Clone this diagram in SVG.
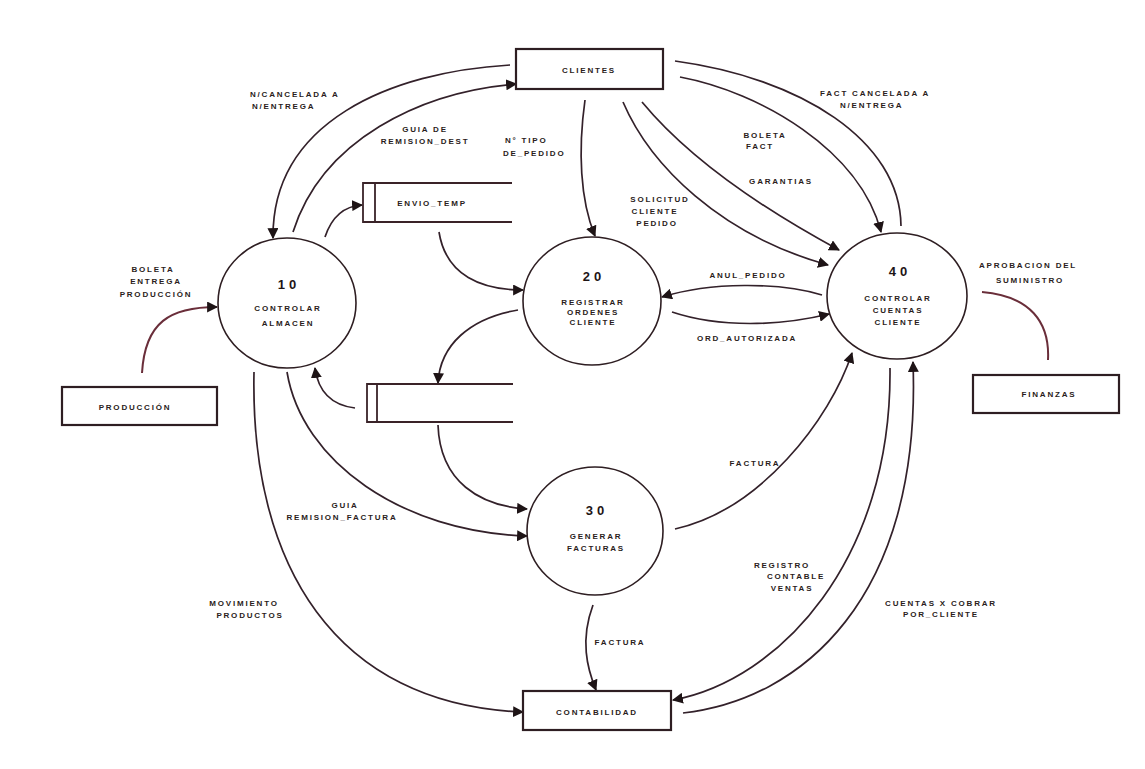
<svg xmlns="http://www.w3.org/2000/svg" width="1145" height="769" viewBox="0 0 1145 769">
  <defs>
    <style>
      .bg { fill: #ffffff; }
      .proc { fill: none; stroke: #2e1e22; stroke-width: 1.6; }
      .ext { fill: #ffffff; stroke: #2e1e22; stroke-width: 2.2; }
      .store { fill: none; stroke: #3a2328; stroke-width: 1.8; }
      .flow { fill: none; stroke: #33212a; stroke-width: 1.7; }
      .flow-red { fill: none; stroke: #6a2e3a; stroke-width: 2; }
      .lbl { font-family: "Liberation Sans", Arial, sans-serif; font-size: 8px; font-weight: bold; letter-spacing: 1.8px; fill: #2a1c20; }
      .mid { text-anchor: middle; }
      .num { font-family: "Liberation Sans", Arial, sans-serif; font-size: 13px; font-weight: bold; letter-spacing: 4px; fill: #1e1416; text-anchor: middle; }
    </style>
    <marker id="arrow" viewBox="0 0 10 10" refX="9" refY="5" markerWidth="11" markerHeight="11" markerUnits="userSpaceOnUse" orient="auto">
      <path d="M0,0 L10,5 L0,10 z" fill="#1e1416"/>
    </marker>
  </defs>

  <rect class="bg" x="0" y="0" width="1145" height="769"/>

  <!-- data flows -->
  <g id="connectors">
    <!-- CLIENTES -> 10 -->
    <path class="flow" d="M510,65 C390,72 272,122 273,238" marker-end="url(#arrow)"/>
    <!-- 10 -> CLIENTES -->
    <path class="flow" d="M293,232 C322,140 420,92 516,84" marker-end="url(#arrow)"/>
    <!-- 10 -> ENVIO_TEMP -->
    <path class="flow" d="M325,237 C332,216 345,206 362,205" marker-end="url(#arrow)"/>
    <!-- ENVIO_TEMP -> 20 -->
    <path class="flow" d="M439,232 C446,276 482,290 523,290" marker-end="url(#arrow)"/>
    <!-- 20 -> store -->
    <path class="flow" d="M518,310 C470,318 440,345 438,383" marker-end="url(#arrow)"/>
    <!-- store -> 10 -->
    <path class="flow" d="M355,408 C330,405 318,390 315,368" marker-end="url(#arrow)"/>
    <!-- PRODUCCION -> 10 -->
    <path class="flow-red" d="M142,373 C145,322 170,307 217,307" marker-end="url(#arrow)"/>
    <!-- CLIENTES -> 20 -->
    <path class="flow" d="M585,100 C578,150 580,200 595,236" marker-end="url(#arrow)"/>
    <!-- CLIENTES -> 40 (four flows) -->
    <path class="flow" d="M623,102 C650,165 720,235 828,265" marker-end="url(#arrow)"/>
    <path class="flow" d="M642,102 C690,160 765,210 839,250" marker-end="url(#arrow)"/>
    <path class="flow" d="M680,77 C760,92 860,150 881,232" marker-end="url(#arrow)"/>
    <path class="flow" d="M675,61 C800,78 900,140 901,226"/>
    <!-- 40 -> 20 -->
    <path class="flow" d="M822,295 C780,282 710,282 662,297" marker-end="url(#arrow)"/>
    <!-- 20 -> 40 -->
    <path class="flow" d="M672,312 C720,328 780,326 829,314" marker-end="url(#arrow)"/>
    <!-- 30 -> 40 -->
    <path class="flow" d="M675,529 C760,510 830,420 852,353" marker-end="url(#arrow)"/>
    <!-- 40 -> CONTABILIDAD -->
    <path class="flow" d="M890,368 C892,560 780,680 673,700" marker-end="url(#arrow)"/>
    <!-- CONTABILIDAD -> 40 -->
    <path class="flow" d="M683,713 C800,700 922,600 913,362" marker-end="url(#arrow)"/>
    <!-- 10 -> 30 -->
    <path class="flow" d="M287,372 C302,462 402,532 527,536" marker-end="url(#arrow)"/>
    <!-- 10 -> CONTABILIDAD -->
    <path class="flow" d="M254,372 C250,565 335,705 523,712" marker-end="url(#arrow)"/>
    <!-- store -> 30 -->
    <path class="flow" d="M438,425 C440,482 480,506 527,509" marker-end="url(#arrow)"/>
    <!-- 30 -> CONTABILIDAD -->
    <path class="flow" d="M593,605 C580,640 587,668 596,690" marker-end="url(#arrow)"/>
    <!-- 40 -> FINANZAS -->
    <path class="flow-red" d="M982,292 C1030,296 1050,322 1048,360"/>

    <!-- flow labels -->
    <text class="lbl" x="250" y="97">N/CANCELADA A</text>
    <text class="lbl" x="252" y="109">N/ENTREGA</text>
    <text class="lbl mid" x="425" y="132">GUIA DE</text>
    <text class="lbl mid" x="425" y="144">REMISION_DEST</text>
    <text class="lbl" x="505" y="143">N° TIPO</text>
    <text class="lbl" x="503" y="156">DE_PEDIDO</text>
    <text class="lbl" x="820" y="96">FACT CANCELADA A</text>
    <text class="lbl" x="840" y="108">N/ENTREGA</text>
    <text class="lbl mid" x="765" y="138">BOLETA</text>
    <text class="lbl mid" x="760" y="149">FACT</text>
    <text class="lbl mid" x="781" y="184">GARANTIAS</text>
    <text class="lbl mid" x="660" y="202">SOLICITUD</text>
    <text class="lbl mid" x="655" y="214">CLIENTE</text>
    <text class="lbl mid" x="657" y="226">PEDIDO</text>
    <text class="lbl mid" x="748" y="278">ANUL_PEDIDO</text>
    <text class="lbl mid" x="747" y="341">ORD_AUTORIZADA</text>
    <text class="lbl mid" x="1028" y="268">APROBACION DEL</text>
    <text class="lbl mid" x="1030" y="283">SUMINISTRO</text>
    <text class="lbl mid" x="153" y="272">BOLETA</text>
    <text class="lbl mid" x="156" y="284">ENTREGA</text>
    <text class="lbl mid" x="156" y="297">PRODUCCIÓN</text>
    <text class="lbl mid" x="345" y="508">GUIA</text>
    <text class="lbl mid" x="342" y="520">REMISION_FACTURA</text>
    <text class="lbl mid" x="755" y="466">FACTURA</text>
    <text class="lbl mid" x="782" y="568">REGISTRO</text>
    <text class="lbl mid" x="796" y="579">CONTABLE</text>
    <text class="lbl mid" x="792" y="591">VENTAS</text>
    <text class="lbl mid" x="941" y="606">CUENTAS X COBRAR</text>
    <text class="lbl mid" x="941" y="617">POR_CLIENTE</text>
    <text class="lbl mid" x="244" y="606">MOVIMIENTO</text>
    <text class="lbl mid" x="250" y="618">PRODUCTOS</text>
    <text class="lbl mid" x="620" y="645">FACTURA</text>
  </g>

  <!-- external entities -->
  <g id="clientes">
    <rect class="ext" x="516" y="49" width="147" height="40"/>
    <text class="lbl mid" x="589" y="73">CLIENTES</text>
  </g>
  <g id="produccion">
    <rect class="ext" x="62" y="387" width="155" height="38"/>
    <text class="lbl mid" x="135" y="410">PRODUCCIÓN</text>
  </g>
  <g id="finanzas">
    <rect class="ext" x="973" y="375" width="146" height="38"/>
    <text class="lbl mid" x="1049" y="397">FINANZAS</text>
  </g>
  <g id="contabilidad">
    <rect class="ext" x="523" y="691" width="148" height="39"/>
    <text class="lbl mid" x="597" y="715">CONTABILIDAD</text>
  </g>

  <!-- data stores -->
  <g id="envio-temp">
    <path class="store" d="M512,183 L363,183 L363,222 L512,222 M375,183 L375,222"/>
    <text class="lbl mid" x="432" y="206">ENVIO_TEMP</text>
  </g>
  <g id="store-2">
    <path class="store" d="M513,384 L367,384 L367,422 L513,422 M377,384 L377,422"/>
  </g>

  <!-- processes -->
  <g id="p10">
    <ellipse class="proc" cx="287" cy="303" rx="69" ry="65"/>
    <text class="num" x="289" y="289">10</text>
    <text class="lbl mid" x="288" y="311">CONTROLAR</text>
    <text class="lbl mid" x="288" y="326">ALMACEN</text>
  </g>
  <g id="p20">
    <ellipse class="proc" cx="592" cy="301" rx="69" ry="64"/>
    <text class="num" x="594" y="281">20</text>
    <text class="lbl mid" x="593" y="305">REGISTRAR</text>
    <text class="lbl mid" x="593" y="315">ORDENES</text>
    <text class="lbl mid" x="593" y="325">CLIENTE</text>
  </g>
  <g id="p30">
    <ellipse class="proc" cx="595" cy="531" rx="68" ry="64"/>
    <text class="num" x="597" y="515">30</text>
    <text class="lbl mid" x="596" y="539">GENERAR</text>
    <text class="lbl mid" x="596" y="551">FACTURAS</text>
  </g>
  <g id="p40">
    <ellipse class="proc" cx="897" cy="296" rx="70" ry="63"/>
    <text class="num" x="900" y="276">40</text>
    <text class="lbl mid" x="898" y="301">CONTROLAR</text>
    <text class="lbl mid" x="898" y="313">CUENTAS</text>
    <text class="lbl mid" x="898" y="325">CLIENTE</text>
  </g>
</svg>
